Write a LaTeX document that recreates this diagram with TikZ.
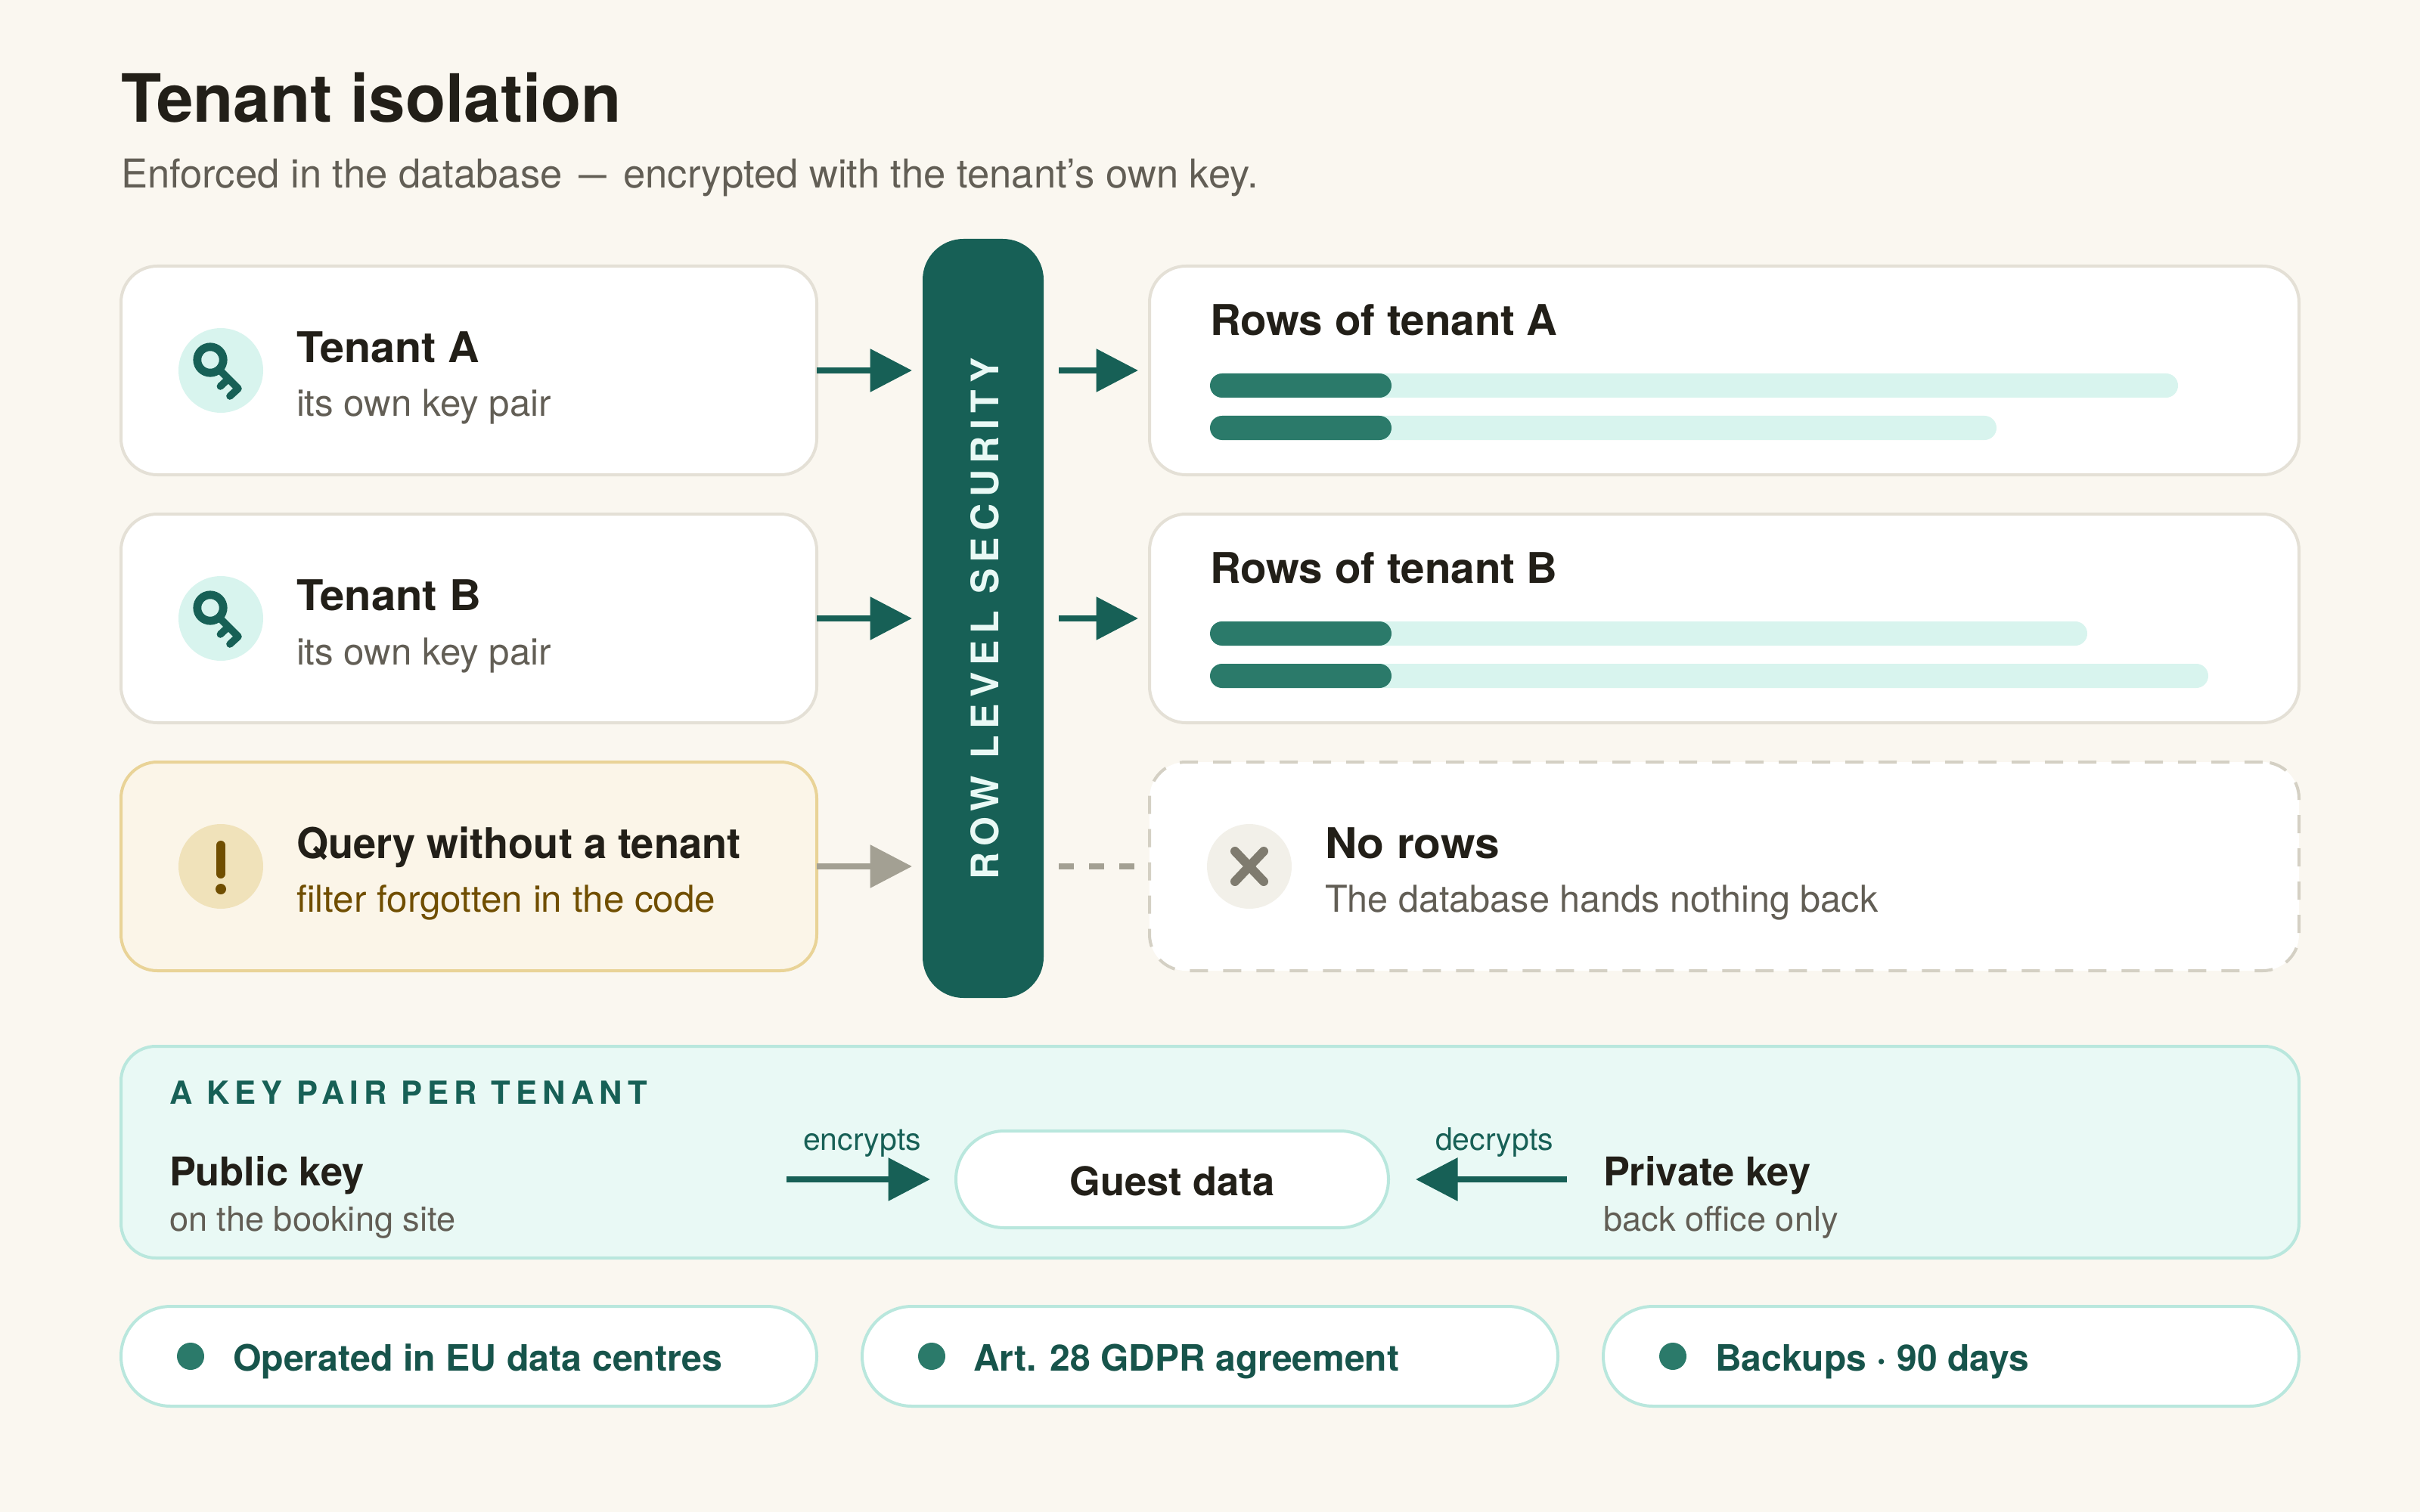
\documentclass[tikz,border=0pt]{standalone}
\usepackage{graphicx}
\usepackage{fontspec}
\setmainfont{TeX Gyre Heros}
\usetikzlibrary{arrows.meta}
\definecolor{paper}{HTML}{FAF7F0}
\definecolor{ink}{HTML}{221F18}
\definecolor{muted}{HTML}{625E55}
\definecolor{deep}{HTML}{176056}
\definecolor{pilltext}{HTML}{17544B}
\definecolor{mid}{HTML}{2B7A6A}
\definecolor{mint}{HTML}{D8F4EE}
\definecolor{panelfill}{HTML}{E9F9F5}
\definecolor{tealline}{HTML}{B9E7DD}
\definecolor{cardline}{HTML}{E4E0D6}
\definecolor{warnfill}{HTML}{FBF5E8}
\definecolor{warnline}{HTML}{E9D397}
\definecolor{warndisc}{HTML}{F0E2BA}
\definecolor{warnink}{HTML}{704E00}
\definecolor{stone}{HTML}{A3A093}
\definecolor{dashline}{HTML}{D4D0C4}
\definecolor{greydisc}{HTML}{F2F0E9}
\definecolor{greyx}{HTML}{7F7B6F}
\newcommand{\fs}[1]{\fontsize{#1}{#1}\selectfont}
\newcommand{\hs}[2]{\scalebox{#1}[1]{#2}}
\tikzset{
  x=1pt,y=-1pt,
  every node/.style={inner sep=0pt,outer sep=0pt},
  card/.style={draw=cardline,fill=white,line width=2pt,rounded corners=24pt,minimum height=138pt},
  leftcard/.style={card,minimum width=460pt},
  rightcard/.style={card,minimum width=760pt},
  warncard/.style={leftcard,draw=warnline,fill=warnfill},
  emptycard/.style={rightcard,draw=dashline,dash pattern=on 12pt off 10pt},
  pill/.style={draw=tealline,fill=white,line width=2pt,rounded corners=32.9pt,minimum height=66pt,minimum width=460pt},
  lab/.style={anchor=base west,text=ink,font=\bfseries\fs{28}},
  sublab/.style={anchor=base west,text=muted,font=\fs{24.5}},
  keyname/.style={anchor=base west,text=ink,font=\bfseries\fs{26.2}},
  keysub/.style={anchor=base west,text=muted,font=\fs{22.6}},
  pilllab/.style={anchor=base west,text=pilltext,font=\bfseries\fs{24}},
  verb/.style={anchor=base,text=deep,font=\fs{20.5}},
  disc/.style={circle,minimum size=56pt},
  dot/.style={circle,fill=mid,minimum size=18pt},
  flow/.style={line width=4pt,color=deep,-{Triangle[length=27.75pt,width=27.75pt]}},
  greyflow/.style={flow,color=stone},
  rowtrack/.style={fill=mint,rounded corners=8pt},
  rowhead/.style={fill=mid,rounded corners=8pt},
  keyicon/.pic={
    \draw[deep,line width=5.4pt] (-7,-7) circle[radius=8.6];
    \draw[deep,line width=4.8pt,line cap=round,line join=round]
      (-1,-0.5) -- (11.5,12) -- (6,17) (4.5,6) -- (-0.3,10.5);
  },
}
\begin{document}
\begin{tikzpicture}
\useasboundingbox (0,0) rectangle (1600,1000);
\fill[paper] (0,0) rectangle (1600,1000);

\node[anchor=base west,text=ink,font=\bfseries\fs{44}] (title) at (80,80.7) {\hs{0.99}{Tenant isolation}};
\node[anchor=base west,text=muted,font=\fs{26.3}] (subtitle) at (80,124.5) {Enforced in the database\hspace{3.6pt} \scalebox{0.7}[1]{—}\hspace{3.6pt} encrypted with the tenant’s own key.};

% left cards
\node[leftcard] (ca) at (310,245) {};
\node[leftcard] (cb) at (310,409) {};
\node[warncard] (cc) at (310,573) {};
\node[disc,fill=mint] (da) at (146,245) {};
\node[disc,fill=mint] (db) at (146,409) {};
\node[disc,fill=warndisc] (dc) at (146,573) {};
\pic at (da.center) {keyicon};
\pic at (db.center) {keyicon};
\draw[warnink,line width=6pt,line cap=round] (146,559) -- (146,578);
\node[circle,fill=warnink,minimum size=7pt] (bang) at (146,588) {};
\node[lab] (ta) at (196,239.7) {\hs{1.026}{Tenant A}};
\node[sublab] (tas) at (196,275.5) {\hs{1.005}{its own key pair}};
\node[lab] (tb) at (196,403.7) {\hs{1.035}{Tenant B}};
\node[sublab] (tbs) at (196,439.5) {\hs{1.005}{its own key pair}};
\node[lab] (tc) at (196,567.7) {\hs{0.966}{Query without a tenant}};
\node[sublab,text=warnink] (tcs) at (196,603.3) {\hs{1.008}{filter forgotten in the code}};

% central bar
\node[fill=deep,rounded corners=27pt,minimum width=80pt,minimum height=502pt] (rls) at (650,409) {};
\node[rotate=90,anchor=base,text=panelfill,font=\bfseries\fs{25}\addfontfeature{LetterSpace=17}] (rlst) at (660,409.2) {ROW LEVEL SECURITY};

% right cards
\node[rightcard] (ra) at (1140,245) {};
\node[rightcard] (rb) at (1140,409) {};
\node[emptycard,fill=white] (rc) at (1140,573) {};
\node[lab] (raT) at (800,221.7) {\hs{1.009}{Rows of tenant A}};
\node[lab] (rbT) at (800,385.7) {\hs{1.009}{Rows of tenant B}};
\fill[rowtrack] (800,247) rectangle (1440,263);
\fill[rowhead] (800,247) rectangle (920,263);
\fill[rowtrack] (800,275) rectangle (1320,291);
\fill[rowhead] (800,275) rectangle (920,291);
\fill[rowtrack] (800,411) rectangle (1380,427);
\fill[rowhead] (800,411) rectangle (920,427);
\fill[rowtrack] (800,439) rectangle (1460,455);
\fill[rowhead] (800,439) rectangle (920,455);
\node[disc,fill=greydisc] (dn) at (826,573) {};
\draw[greyx,line width=6pt,line cap=round] (816.5,563) -- (835.5,583) (835.5,563) -- (816.5,583);
\node[lab] (tn) at (876,567.7) {\hs{1.047}{No rows}};
\node[sublab] (tns) at (876,603.3) {\hs{0.992}{The database hands nothing back}};

% flows
\draw[flow,shorten >=7pt] (ca.east) -- (ca.east -| rls.west);
\draw[flow,shorten >=7pt] (cb.east) -- (cb.east -| rls.west);
\draw[greyflow,shorten >=7pt] (cc.east) -- (cc.east -| rls.west);
\draw[flow,shorten <=10pt,shorten >=7.5pt] (ra.west -| rls.east) -- (ra.west);
\draw[flow,shorten <=10pt,shorten >=7.5pt] (rb.west -| rls.east) -- (rb.west);
\draw[line width=4pt,color=stone,dash pattern=on 10pt off 10pt,shorten <=10pt,shorten >=10pt] (rc.west -| rls.east) -- (rc.west);

% key panel
\node[draw=tealline,fill=panelfill,line width=2pt,rounded corners=23pt,minimum width=1440pt,minimum height=140pt] (panel) at (800,762) {};
\node[anchor=base west,text=deep,font=\bfseries\fs{21}\addfontfeature{LetterSpace=17}] (ph) at (112,730) {A KEY PAIR PER TENANT};
\node[keyname] (pub) at (112,784) {Public key};
\node[keysub] (pubs) at (112,814) {on the booking site};
\node[keyname] (pri) at (1060,784) {Private key};
\node[keysub] (pris) at (1060,814) {back office only};
\node[draw=tealline,fill=white,line width=2pt,rounded corners=32pt,minimum width=286pt,minimum height=64pt] (guest) at (775,780) {};
\node[anchor=base,text=ink,font=\bfseries\fs{26.2}] (guestt) at (775,790.5) {Guest data};
\coordinate (encfrom) at (520,780);
\coordinate (decfrom) at (1036,780);
\draw[flow,shorten >=17pt] (encfrom) -- (guest.west);
\draw[flow,shorten >=18pt] (decfrom) -- (guest.east);
\node[verb] (enc) at (570,760.5) {encrypts};
\node[verb] (dec) at (988,760.5) {decrypts};

% pills
\node[pill] (p1) at (310,897) {};
\node[pill] (p2) at (800,897) {};
\node[pill] (p3) at (1290,897) {};
\node[dot] (d1) at (126,897) {};
\node[dot] (d2) at (616,897) {};
\node[dot] (d3) at (1106,897) {};
\node[pilllab] (l1) at (154,906.5) {\hs{1.006}{Operated in EU data centres}};
\node[pilllab] (l2) at (643.6,906.5) {Art. 28 GDPR agreement};
\node[pilllab] (l3) at (1134,906.5) {Backups · 90 days};
\end{tikzpicture}
\end{document}
